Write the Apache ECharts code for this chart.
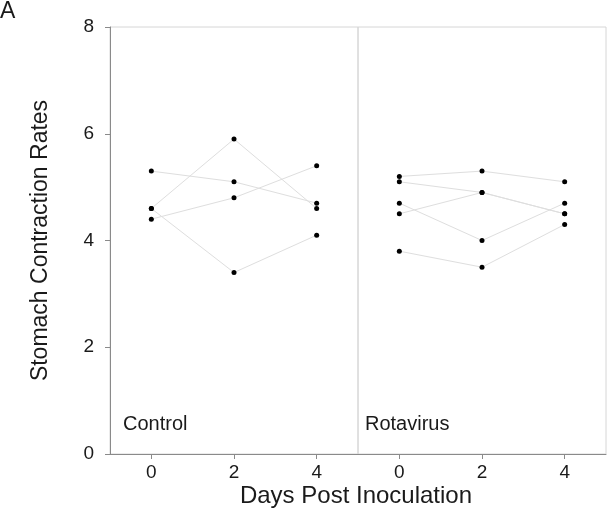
<!DOCTYPE html>
<html>
<head>
<meta charset="utf-8">
<script src="https://cdn.jsdelivr.net/npm/echarts@6/dist/echarts.min.js"></script>
<style>
  html, body { margin: 0; padding: 0; background: #fff; }
  #chart { width: 608px; height: 512px; }
</style>
</head>
<body>
<div id="chart"></div>
<script>
// days post inoculation (x positions inside each panel)
const days = [0, 2, 4];
const xTicks = [0, 2, 4];
const yTicks = [0, 2, 4, 6, 8];
const panels = ['Control', 'Rotavirus'];

// one row per animal: values at day 0, 2, 4
const control = [
  [5.3, 5.1, 4.7],
  [4.6, 5.9, 4.6],
  [4.4, 4.8, 5.4],
  [4.6, 3.4, 4.1],
];
const rotavirus = [
  [5.2, 5.3, 5.1],
  [5.1, 4.9, 4.5],
  [4.5, 4.9, 4.5],
  [4.7, 4.0, 4.7],
  [3.8, 3.5, 4.3],
];

const FONT = '"Liberation Sans", Arial, sans-serif';
const INK = '#1a1a1a';
const AXIS = '#8a8a8a';
const BOX = '#d6d6d6';

const chart = echarts.init(document.getElementById('chart'), null, { renderer: 'canvas' });

function makeSeries(rows, idx) {
  return rows.map((r, i) => ({
    name: panels[idx] + ' ' + (i + 1),
    type: 'line',
    xAxisIndex: idx,
    yAxisIndex: idx,
    data: r.map((v, j) => [days[j], v]),
    symbol: 'circle',
    symbolSize: 5,
    itemStyle: { color: '#000' },
    lineStyle: { color: '#dedede', width: 1 },
    z: 3,
    silent: true,
    animation: false,
  }));
}

function xAxis(idx) {
  return {
    type: 'value',
    gridIndex: idx,
    min: -1,
    max: 5,
    axisLine: { show: true, onZero: false, lineStyle: { color: AXIS } },
    axisTick: { show: true, length: 5, lineStyle: { color: AXIS }, customValues: xTicks },
    axisLabel: { color: INK, fontSize: 19, fontFamily: FONT, margin: 9, customValues: xTicks },
    splitLine: { show: false },
  };
}

function yAxis(idx) {
  return {
    type: 'value',
    gridIndex: idx,
    min: 0,
    max: 8,
    interval: 2,
    show: idx === 0,
    name: idx === 0 ? 'Stomach Contraction Rates' : '',
    nameLocation: 'middle',
    nameGap: 58,
    nameTextStyle: { color: INK, fontSize: 23, fontFamily: FONT },
    axisLine: { show: true, onZero: false, lineStyle: { color: AXIS } },
    axisTick: { show: true, length: 5, lineStyle: { color: AXIS } },
    axisLabel: { color: INK, fontSize: 19, fontFamily: FONT, margin: 16 },
    splitLine: { show: false },
  };
}

const option = {
  backgroundColor: '#fff',
  animation: false,
  grid: [
    { left: 110, top: 27, width: 248, height: 427, show: true, borderColor: BOX, borderWidth: 1 },
    { left: 358, top: 27, width: 248, height: 427, show: true, borderColor: BOX, borderWidth: 1 },
  ],
  xAxis: [xAxis(0), xAxis(1)],
  yAxis: [yAxis(0), yAxis(1)],
  graphic: [
    { type: 'text', left: 0, top: 0, style: { text: 'A', fill: INK, font: '23px ' + FONT } },
    { type: 'text', left: 123, top: 414, style: { text: panels[0], fill: INK, font: '20px ' + FONT } },
    { type: 'text', left: 365, top: 414, style: { text: panels[1], fill: INK, font: '20px ' + FONT } },
    {
      type: 'text', x: 356, y: 496,
      style: { text: 'Days Post Inoculation', fill: INK, font: '24px ' + FONT, align: 'center', verticalAlign: 'middle' },
    },
  ],
  series: [...makeSeries(control, 0), ...makeSeries(rotavirus, 1)],
};

chart.setOption(option);
</script>
</body>
</html>
